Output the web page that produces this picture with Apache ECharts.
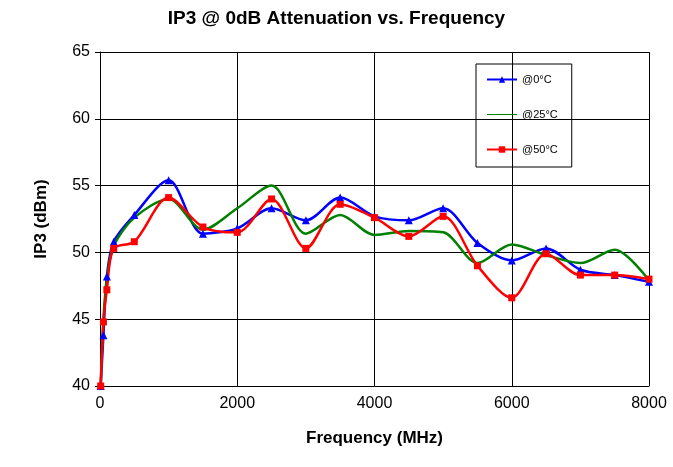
<!DOCTYPE html>
<html><head><meta charset="utf-8">
<script src="https://cdn.jsdelivr.net/npm/echarts@6/dist/echarts.min.js"></script>
<style>html,body{margin:0;padding:0;background:#fff}#c{width:673px;height:467px}</style>
</head><body><div id="c"></div>
<script>
var freq = [10, 50, 100, 200, 500, 1000, 1500, 2000, 2500, 3000, 3500, 4000, 4500, 5000, 5500, 6000, 6500, 7000, 7500, 8000];
var ip3_0  = [40, 43.8, 48.2, 50.8, 52.8, 55.4, 51.4, 51.8, 53.3, 52.4, 54.1, 52.7, 52.4, 53.3, 50.7, 49.4, 50.3, 48.7, 48.3, 47.8];
var ip3_25 = [40, 45.0, 48.0, 50.5, 52.6, 54.0, 51.7, 53.3, 55.0, 51.4, 52.8, 51.3, 51.6, 51.5, 49.2, 50.6, 49.8, 49.2, 50.2, 47.9];
var ip3_50 = [40, 44.8, 47.2, 50.3, 50.8, 54.1, 51.9, 51.5, 54.0, 50.3, 53.6, 52.6, 51.2, 52.7, 49.0, 46.6, 49.9, 48.3, 48.3, 48.0];

function pairs(v) { return freq.map(function (f, i) { return [f, v[i]]; }); }

var chart = echarts.init(document.getElementById('c'));
var font = 'Liberation Sans';
chart.setOption({
    animation: false,
    title: {
        text: 'IP3 @ 0dB Attenuation vs. Frequency',
        left: 'center', top: 4,
        textStyle: {fontFamily: font, fontSize: 19, fontWeight: 'bold', color: '#000'}
    },
    legend: {
        orient: 'vertical', left: 476, top: 64, itemGap: 24,
        itemWidth: 30, itemHeight: 8,
        borderColor: '#000', borderWidth: 1, padding: [10, 14, 12, 10],
        textStyle: {fontFamily: font, fontSize: 11, color: '#000'},
        data: [{name: '@0°C'},
               {name: '@25°C', icon: 'path://M0,3.5 L30,3.5 L30,4.5 L0,4.5 Z', itemStyle: {color: '#008000'}},
               {name: '@50°C'}]
    },
    grid: {left: 100, right: 24, top: 52, bottom: 81},
    xAxis: {
        type: 'value', min: 0, max: 8000, interval: 2000,
        name: 'Frequency (MHz)', nameLocation: 'middle', nameGap: 44,
        nameTextStyle: {fontFamily: font, fontSize: 17, fontWeight: 'bold', color: '#000'},
        axisLine: {lineStyle: {color: '#000'}},
        axisTick: {show: false},
        axisLabel: {fontFamily: font, fontSize: 16, color: '#000', margin: 10,
                    formatter: function (v) { return String(v); }},
        splitLine: {lineStyle: {color: '#000'}}
    },
    yAxis: {
        type: 'value', min: 40, max: 65, interval: 5,
        name: 'IP3 (dBm)', nameLocation: 'middle', nameGap: 50,
        nameTextStyle: {fontFamily: font, fontSize: 17, fontWeight: 'bold', color: '#000'},
        axisLine: {show: true, lineStyle: {color: '#000'}},
        axisTick: {show: true, length: 5},
        axisLabel: {fontFamily: font, fontSize: 16, color: '#000', margin: 10},
        splitLine: {lineStyle: {color: '#000'}}
    },
    series: [
        {name: '@0°C', type: 'line', smooth: 0.3, data: pairs(ip3_0),
         symbol: 'triangle', symbolSize: 8, color: '#0000ff', lineStyle: {width: 2.5}},
        {name: '@25°C', type: 'line', smooth: 0.3, data: pairs(ip3_25),
         symbol: 'none', color: '#008000', lineStyle: {width: 2.5}},
        {name: '@50°C', type: 'line', smooth: 0.3, data: pairs(ip3_50),
         symbol: 'rect', symbolSize: 7, color: '#ff0000', lineStyle: {width: 2.5}}
    ]
});
</script></body></html>
